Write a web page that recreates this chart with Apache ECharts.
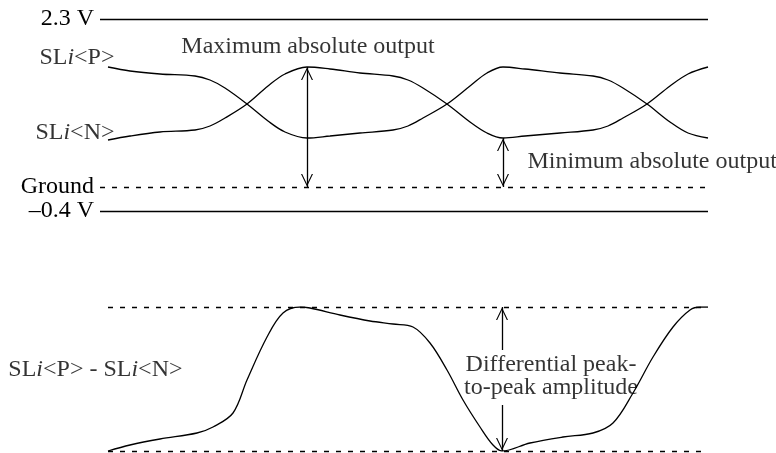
<!DOCTYPE html>
<html>
<head>
<meta charset="utf-8">
<script src="https://cdn.jsdelivr.net/npm/echarts@6/dist/echarts.min.js"></script>
<style>
  html, body { margin: 0; padding: 0; background: #fff; }
  #chart { width: 776px; height: 453px; }
</style>
</head>
<body>
<div id="chart"></div>
<script>
// time axis (arbitrary units), amplitude in display units above ground
const timeMin = -8;
const timeMax = 600;

// top panel levels
const railHigh = 168;      // 2.3 V
const groundLevel = 0;     // Ground
const railLow = -24;       // -0.4 V
const railLabels = ['2.3 V', 'Ground', '\u20130.4 V'];

// single-ended outputs [t, level]
const sliP = [[0,120],[22,116],[52,113],[87,111],[102,107],[117,99],[139,83],[160,66],[177,55],[199,49],
  [222,51],[252,54],[285,57],[300,61],[315,69],[339,83],[362,101],[379,114],[395,120],
  [417,118],[452,114],[485,111],[500,107],[515,99],[539,83],[562,65],[580,54],[600,49]];
const sliN = [[0,47],[22,51],[52,55],[87,57],[102,61],[117,69],[139,83],[160,101],[177,113],[199,120],
  [222,118],[252,114],[285,111],[300,107],[315,99],[339,83],[362,65],[379,54],[395,49],
  [417,51],[452,54],[485,57],[500,61],[515,69],[539,83],[562,101],[580,113],[600,120]];

// differential output [t, level]
const diffPeak = 72;
const sliDiff = [[0,-72],[22,-66],[52,-60],[89,-54],[105,-48],[125,-34],[139,-1],[159,42],[175,66],[192,72],
  [202,71],[232,64],[262,58],[285,55],[305,52],[322,36],[339,9],[355,-21],[372,-48],[385,-66],[394,-72],
  [422,-64],[455,-58],[485,-54],[505,-44],[525,-14],[545,22],[565,52],[582,69],[592,72],[600,72]];

// arrows [t, from, to]
const maxArrow = [199, 120, 0];
const minArrow = [395, 49, 0];
// differential arrow is split around its text: [t, outer end, inner end]
const diffArrowUp = [394, 72, 29];
const diffArrowDown = [394, -72, -26];

// annotation texts
const topNotes = [
  { at: [7, 129], text: 'SL{i|i}<P>', pos: 'left' },
  { at: [7, 54], text: 'SL{i|i}<N>', pos: 'left' },
  { at: [200, 140], text: 'Maximum absolute output', pos: 'inside' },
  { at: [419, 25], text: 'Minimum absolute output', pos: 'right' }
];
const bottomNotes = [
  { at: [75, 9], text: 'SL{i|i}<P> - SL{i|i}<N>', pos: 'left' },
  { at: [443, 3], text: 'Differential peak-\nto-peak amplitude', pos: 'inside' }
];

const FONT = '"Liberation Serif", "DejaVu Serif", serif';
const FS = 24;
const INK = '#000';
const chevron = 'path://M6,-13L6,-12.99M0,12L6,0L12,12L10.8,12L6,2.4L1.2,12Z';

const richText = {
  i: { fontStyle: 'italic', fontFamily: FONT, fontSize: FS, color: INK }
};

function noteSeries(notes, idx) {
  return {
    type: 'scatter',
    xAxisIndex: idx, yAxisIndex: idx,
    symbolSize: 1,
    itemStyle: { color: 'rgba(0,0,0,0)' },
    silent: true,
    clip: false,
    z: 10,
    data: notes.map(n => ({
      value: n.at,
      label: {
        show: true,
        position: n.pos,
        distance: 0,
        formatter: n.text,
        fontFamily: FONT,
        fontSize: FS,
        color: INK,
        lineHeight: 23,
        align: n.pos === 'left' ? 'right' : (n.pos === 'right' ? 'left' : 'center'),
        rich: richText
      }
    }))
  };
}

function arrowLine(a) {
  return [{ coord: [a[0], a[1]] }, { coord: [a[0], a[2]] }];
}

function halfArrow(a) {
  return [{ coord: [a[0], a[1]], symbol: chevron }, { coord: [a[0], a[2]], symbol: 'none' }];
}

function hLine(level, dashed, label) {
  return [
    {
      coord: [timeMin, level],
      lineStyle: { type: dashed ? [5, 7] : 'solid' },
      label: label ? { show: true, position: 'start', formatter: label } : { show: false }
    },
    { coord: [timeMax, level] }
  ];
}

const signalStyle = { color: INK, width: 1.3 };

const option = {
  animation: false,
  backgroundColor: '#fff',
  grid: [
    { left: 100, right: 68, top: 19, bottom: 242 },
    { left: 100, right: 68, top: 307, bottom: 2 }
  ],
  xAxis: [
    { type: 'value', gridIndex: 0, min: timeMin, max: timeMax, show: false },
    { type: 'value', gridIndex: 1, min: timeMin, max: timeMax, show: false }
  ],
  yAxis: [
    { type: 'value', gridIndex: 0, min: railLow, max: railHigh, show: false },
    { type: 'value', gridIndex: 1, min: -diffPeak, max: diffPeak, show: false }
  ],
  series: [
    {
      name: 'rails',
      type: 'line',
      xAxisIndex: 0, yAxisIndex: 0,
      data: [],
      markLine: {
        silent: true,
        symbol: 'none',
        lineStyle: { color: INK, width: 1.3 },
        label: { color: INK, fontFamily: FONT, fontSize: FS, distance: 6 },
        data: [
          hLine(railHigh, false, railLabels[0]),
          hLine(groundLevel, true, railLabels[1]),
          hLine(railLow, false, railLabels[2])
        ]
      }
    },
    {
      name: 'SLi<P>',
      type: 'line',
      xAxisIndex: 0, yAxisIndex: 0,
      data: sliP,
      smooth: 0.35,
      showSymbol: false,
      lineStyle: signalStyle
    },
    {
      name: 'SLi<N>',
      type: 'line',
      xAxisIndex: 0, yAxisIndex: 0,
      data: sliN,
      smooth: 0.35,
      showSymbol: false,
      lineStyle: signalStyle
    },
    {
      name: 'top arrows',
      type: 'line',
      xAxisIndex: 0, yAxisIndex: 0,
      data: [],
      markLine: {
        silent: true,
        symbol: [chevron, chevron],
        symbolSize: [12, 26],
        lineStyle: { color: INK, width: 1.3, type: 'solid' },
        label: { show: false },
        data: [arrowLine(maxArrow), arrowLine(minArrow)]
      }
    },
    {
      name: 'diff',
      type: 'line',
      xAxisIndex: 1, yAxisIndex: 1,
      data: sliDiff,
      smooth: 0.35,
      showSymbol: false,
      lineStyle: signalStyle,
      markLine: {
        silent: true,
        symbol: 'none',
        lineStyle: { color: INK, width: 1.3, type: [5, 7] },
        label: { show: false },
        data: [
          [{ coord: [0, diffPeak] }, { coord: [timeMax, diffPeak] }],
          [{ coord: [0, -diffPeak] }, { coord: [timeMax, -diffPeak] }]
        ]
      }
    },
    {
      name: 'diff arrow',
      type: 'line',
      xAxisIndex: 1, yAxisIndex: 1,
      data: [],
      markLine: {
        silent: true,
        symbolSize: [12, 26],
        lineStyle: { color: INK, width: 1.3, type: 'solid' },
        label: { show: false },
        data: [halfArrow(diffArrowUp), halfArrow(diffArrowDown)]
      }
    },
    noteSeries(topNotes, 0),
    noteSeries(bottomNotes, 1)
  ]
};

const chart = echarts.init(document.getElementById('chart'));
chart.setOption(option);
</script>
</body>
</html>
